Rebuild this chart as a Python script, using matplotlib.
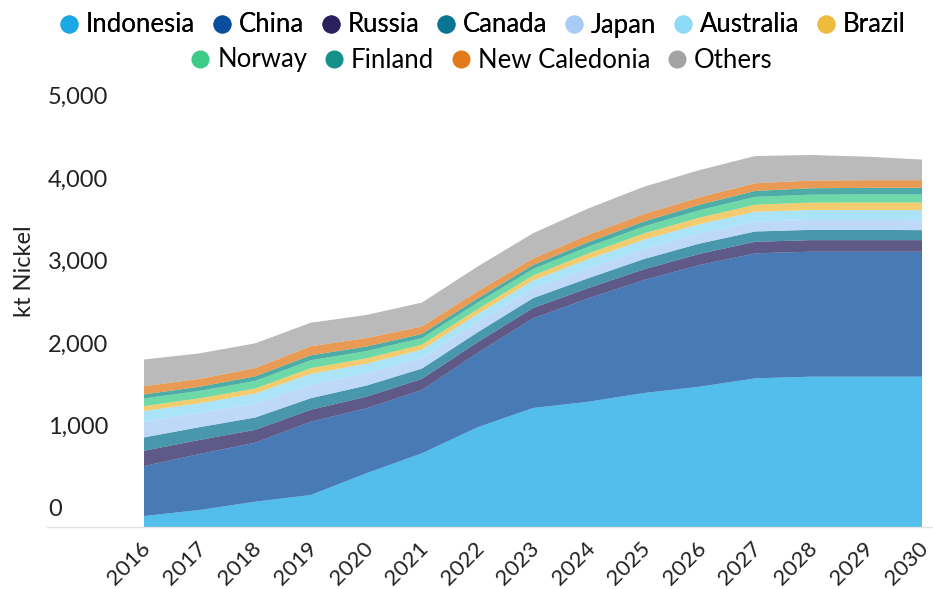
import matplotlib
matplotlib.use("Agg")
import matplotlib.pyplot as plt
from matplotlib.lines import Line2D

plt.rcParams['font.family'] = ['Lato', 'DejaVu Sans']

## data (kt Nickel)
years = [2016, 2017, 2018, 2019, 2020, 2021, 2022, 2023, 2024, 2025, 2026, 2027, 2028, 2029, 2030]
indonesia = [133, 206, 307, 388, 651, 893, 1208, 1442, 1519, 1624, 1701, 1802, 1822, 1822, 1822]
china = [606, 679, 715, 888, 788, 767, 901, 1087, 1253, 1370, 1475, 1515, 1515, 1515, 1515]
russia = [185, 170, 155, 145, 140, 135, 130, 125, 125, 130, 135, 140, 140, 140, 140]
canada = [162, 155, 150, 140, 135, 125, 120, 120, 120, 125, 125, 125, 125, 125, 121]
japan = [190, 170, 165, 165, 145, 125, 120, 115, 120, 120, 120, 120, 120, 120, 121]
australia = [130, 120, 125, 130, 120, 105, 100, 100, 110, 115, 115, 120, 120, 120, 121]
brazil = [60, 60, 62, 70, 65, 60, 60, 60, 70, 75, 80, 85, 90, 92, 93]
norway = [93, 90, 92, 95, 88, 80, 80, 78, 82, 85, 90, 95, 96, 97, 97]
finland = [48, 50, 55, 60, 55, 50, 50, 48, 55, 60, 65, 72, 78, 80, 81]
new_caledonia = [100, 95, 100, 110, 103, 90, 87, 80, 89, 91, 91, 93, 93, 93, 93]
others = [323, 310, 300, 285, 280, 290, 300, 305, 320, 330, 330, 330, 310, 285, 250]

names = ['Indonesia', 'China', 'Russia', 'Canada', 'Japan', 'Australia', 'Brazil',
         'Norway', 'Finland', 'New Caledonia', 'Others']
series = [indonesia, china, russia, canada, japan, australia, brazil,
          norway, finland, new_caledonia, others]
colors = ['#1aa7e6', '#0a4f9e', '#28215e', '#0a7592', '#a8ccf5', '#8fdaf8', '#efbb3f',
          '#3dcb88', '#13918a', '#e27a1c', '#a3a3a3']
y_ticks = [0, 1000, 2000, 3000, 4000, 5000]

W, H = 933, 589
fig = plt.figure(figsize=(W / 100, H / 100), dpi=100)
ax = fig.add_axes([144 / W, 62 / H, 778 / W, 412.5 / H])

ax.stackplot(years, series, colors=colors, alpha=0.75, linewidth=0)
ax.set_xlim(2016, 2030)
ax.set_ylim(0, 5000)
ax.axis('off')

# baseline
fig.add_artist(Line2D([47 / W, 1.0], [62 / H, 62 / H], color='#e3e3e3', lw=1))

# y tick labels, drawn above their value like the original
for v in y_ticks:
    y_px = 62 + v / 5000 * 412.5 + 17
    fig.text(48 / W, y_px / H, f'{v:,}', ha='left', va='center', fontsize=17, color='#222222')

# x tick labels
for yr in years:
    ax.annotate(str(yr), xy=(yr, 0), xycoords='data', xytext=(2.5, -13), textcoords='offset points',
                rotation=45, ha='right', va='center', rotation_mode='anchor', fontsize=16,
                color='#222222', annotation_clip=False)

fig.text(25 / W, 318 / H, 'kt Nickel', rotation=90, ha='center', va='center', fontsize=17, color='#222222')

handles = [Line2D([], [], marker='o', ls='', color=c, markersize=12) for c in colors]
leg1 = fig.legend(handles[:7], names[:7], loc='center', bbox_to_anchor=(481 / W, 1 - 25 / H),
                  ncol=7, frameon=False, fontsize=18.5, handletextpad=0.15, columnspacing=0.55,
                  handlelength=1.0, borderaxespad=0, borderpad=0)
fig.add_artist(leg1)
fig.legend(handles[7:], names[7:], loc='center', bbox_to_anchor=(480 / W, 1 - 60 / H),
           ncol=4, frameon=False, fontsize=18.5, handletextpad=0.15, columnspacing=0.55,
           handlelength=1.0, borderaxespad=0, borderpad=0)

fig.savefig('out.png', dpi=100)
